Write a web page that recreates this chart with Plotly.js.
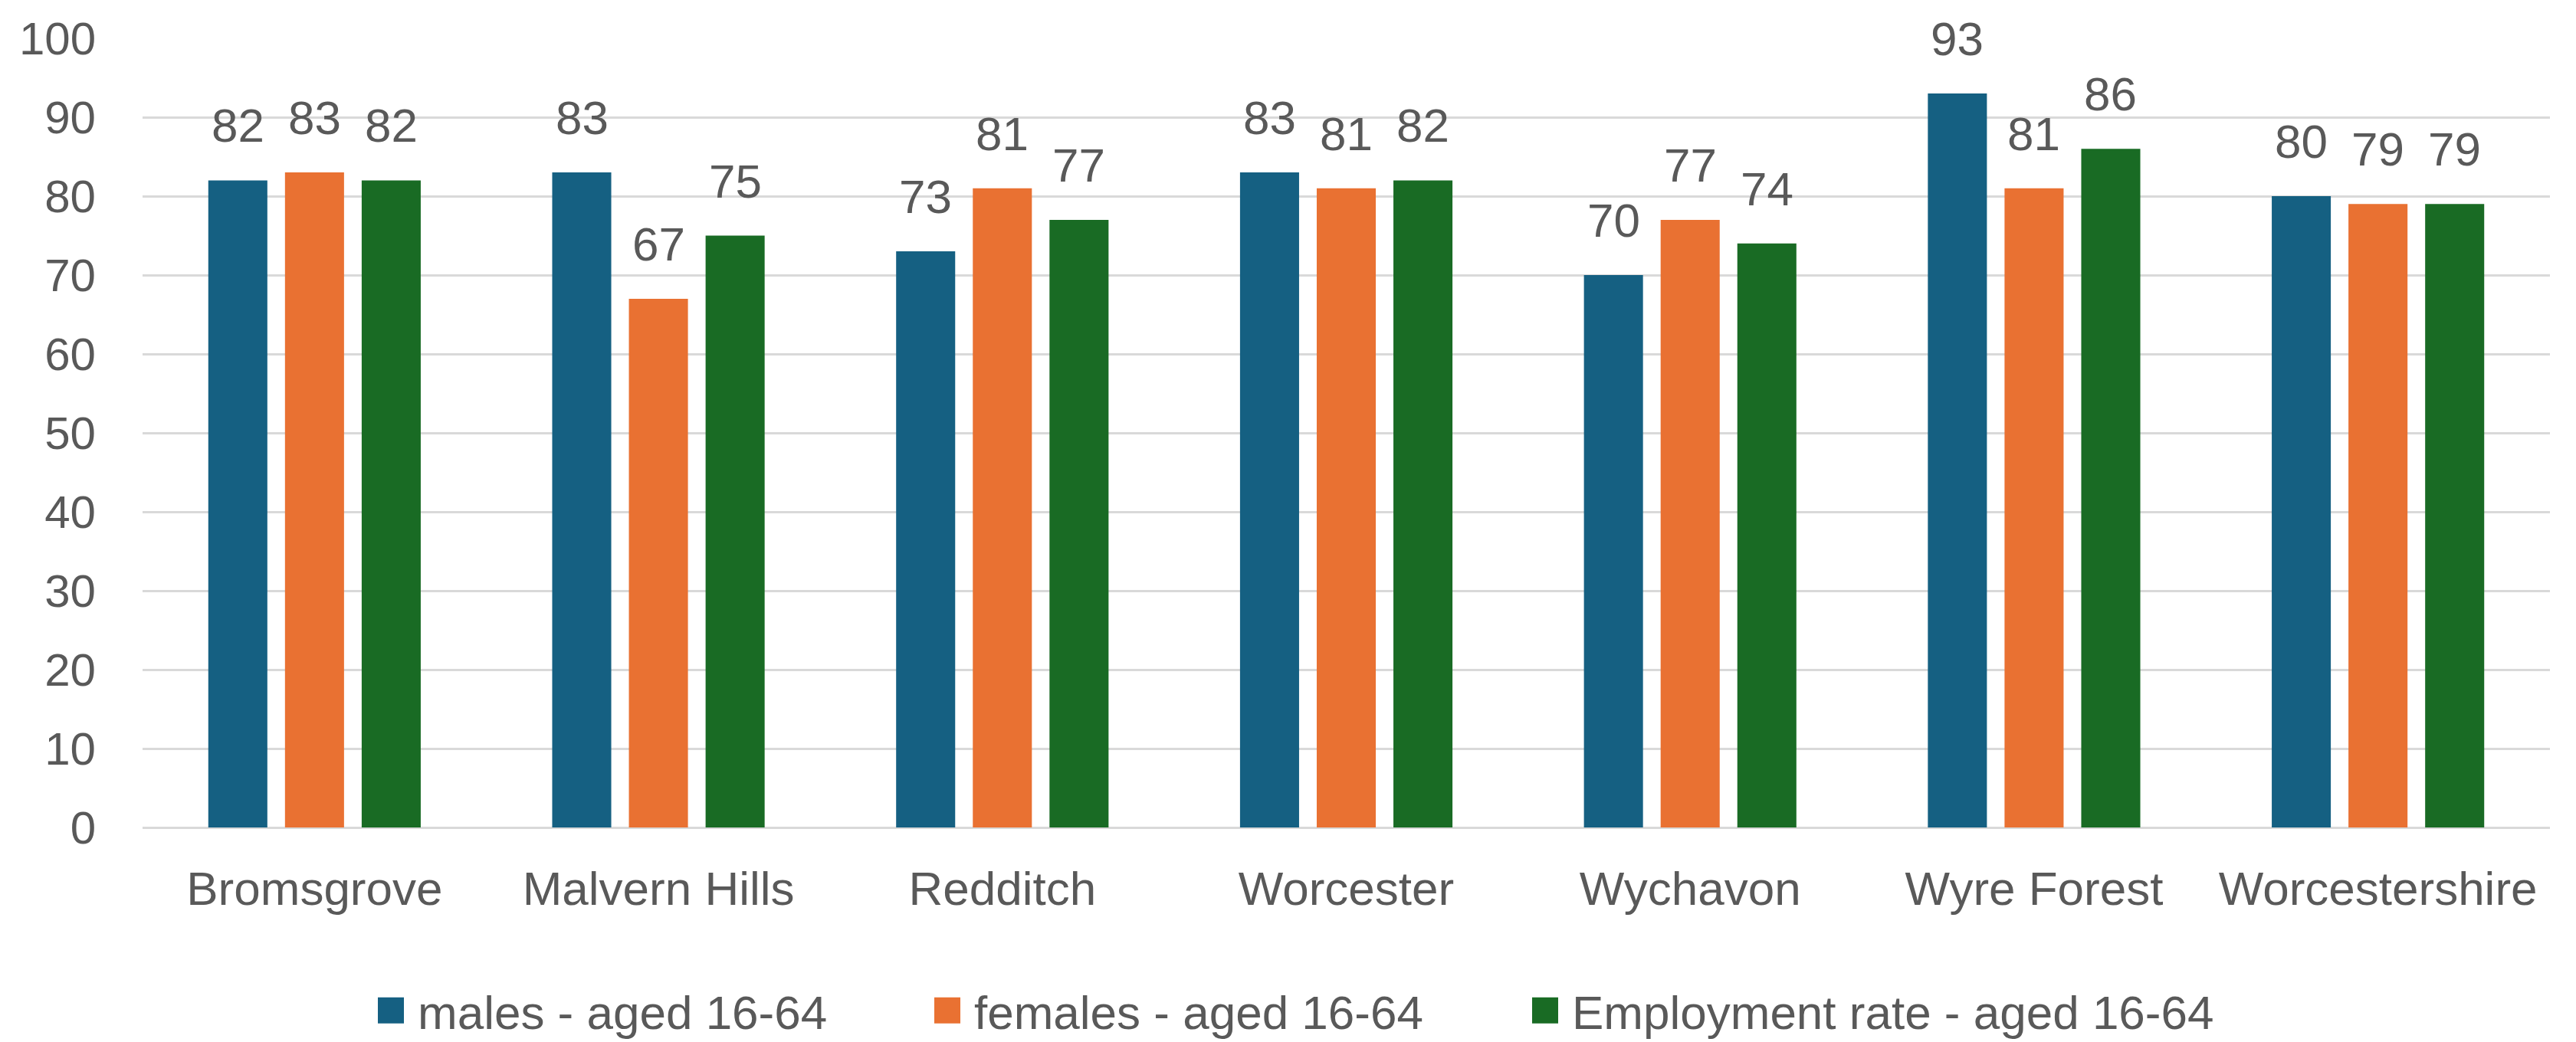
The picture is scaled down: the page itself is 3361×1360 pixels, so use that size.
<!DOCTYPE html>
<html>
<head>
<meta charset="utf-8">
<script src="https://cdn.plot.ly/plotly-3.0.1.min.js"></script>
<style>
  html, body { margin: 0; padding: 0; background: #ffffff; }
  #chart { width: 3361px; height: 1360px; }
</style>
</head>
<body>
<div id="chart"></div>
<script>
// Employment rates (%) by district, people aged 16-64
const districts = ['Bromsgrove', 'Malvern Hills', 'Redditch', 'Worcester', 'Wychavon', 'Wyre Forest', 'Worcestershire'];
const males      = [82, 83, 73, 83, 70, 93, 80];
const females    = [83, 67, 81, 81, 77, 81, 79];
const employment = [82, 75, 77, 82, 74, 86, 79];
const seriesNames = ['males - aged 16-64', 'females - aged 16-64', 'Employment rate - aged 16-64'];
const yTicks = [0, 10, 20, 30, 40, 50, 60, 70, 80, 90, 100];

const W = 3361, H = 1360;
const margin = { l: 186, r: 34, t: 50, b: 280 };
const BARGAP = 0.331, GROUPGAP = 0.23;
const FONT = '"Liberation Sans", Arial, sans-serif';
const TEXT_COLOR = '#595959';
const colors = ['#156082', '#E97132', '#196B24'];
const seriesValues = [males, females, employment];
const legendWidths = [681, 735, undefined];

const traces = seriesValues.map((vals, i) => ({
  type: 'bar',
  name: seriesNames[i],
  x: districts,
  y: vals,
  marker: { color: colors[i], line: { width: 0 } },
  legendwidth: legendWidths[i],
  hoverinfo: 'x+y+name'
}));

// Value labels above each bar, offset sideways to sit over its bar in the group
const plotW = W - margin.l - margin.r;
const slot = (plotW / districts.length) * (1 - BARGAP) / seriesValues.length;
const annotations = [];
seriesValues.forEach((vals, i) => {
  vals.forEach((v, j) => {
    annotations.push({
      x: districts[j], y: v, xref: 'x', yref: 'y',
      text: String(v), showarrow: false,
      xanchor: 'center', yanchor: 'bottom',
      xshift: (i - 1) * slot, yshift: 35,
      font: { family: FONT, size: 62, color: TEXT_COLOR }
    });
  });
});

const layout = {
  width: W, height: H,
  margin: margin,
  paper_bgcolor: '#ffffff', plot_bgcolor: '#ffffff',
  barmode: 'group', bargap: BARGAP, bargroupgap: GROUPGAP,
  font: { family: FONT, size: 60, color: TEXT_COLOR },
  xaxis: {
    type: 'category',
    showgrid: false, showline: false, zeroline: false,
    ticks: '', ticklabelstandoff: 38,
    tickfont: { family: FONT, size: 62, color: TEXT_COLOR }
  },
  yaxis: {
    range: [0, 100], tickvals: yTicks, ticktext: yTicks.map(String),
    showgrid: true, gridcolor: '#d9d9d9', gridwidth: 3,
    zeroline: true, zerolinecolor: '#d9d9d9', zerolinewidth: 3,
    showline: false, ticks: '', ticklabelstandoff: 60,
    tickfont: { family: FONT, size: 60, color: TEXT_COLOR }
  },
  showlegend: true,
  legend: {
    orientation: 'h',
    xref: 'container', yref: 'container',
    x: 505 / W, xanchor: 'left',
    y: 1 - 1319 / H, yanchor: 'middle',
    font: { family: FONT, size: 62, color: TEXT_COLOR },
    bgcolor: 'rgba(0,0,0,0)'
  },
  annotations: annotations
};

Plotly.newPlot('chart', traces, layout, { staticPlot: true, displayModeBar: false }).then(gd => {
  // Larger square legend swatches, set a little before the legend text
  gd.querySelectorAll('.legend .legendpoints path').forEach(p => {
    p.setAttribute('d', 'M17,17H-17V-17H17Z');
    p.setAttribute('transform', 'translate(5,0)');
  });
  // Let the first swatch extend past the legend box edge without clipping
  gd.querySelectorAll('.legend .scrollbox, .legend').forEach(g => g.removeAttribute('clip-path'));
});
</script>
</body>
</html>
